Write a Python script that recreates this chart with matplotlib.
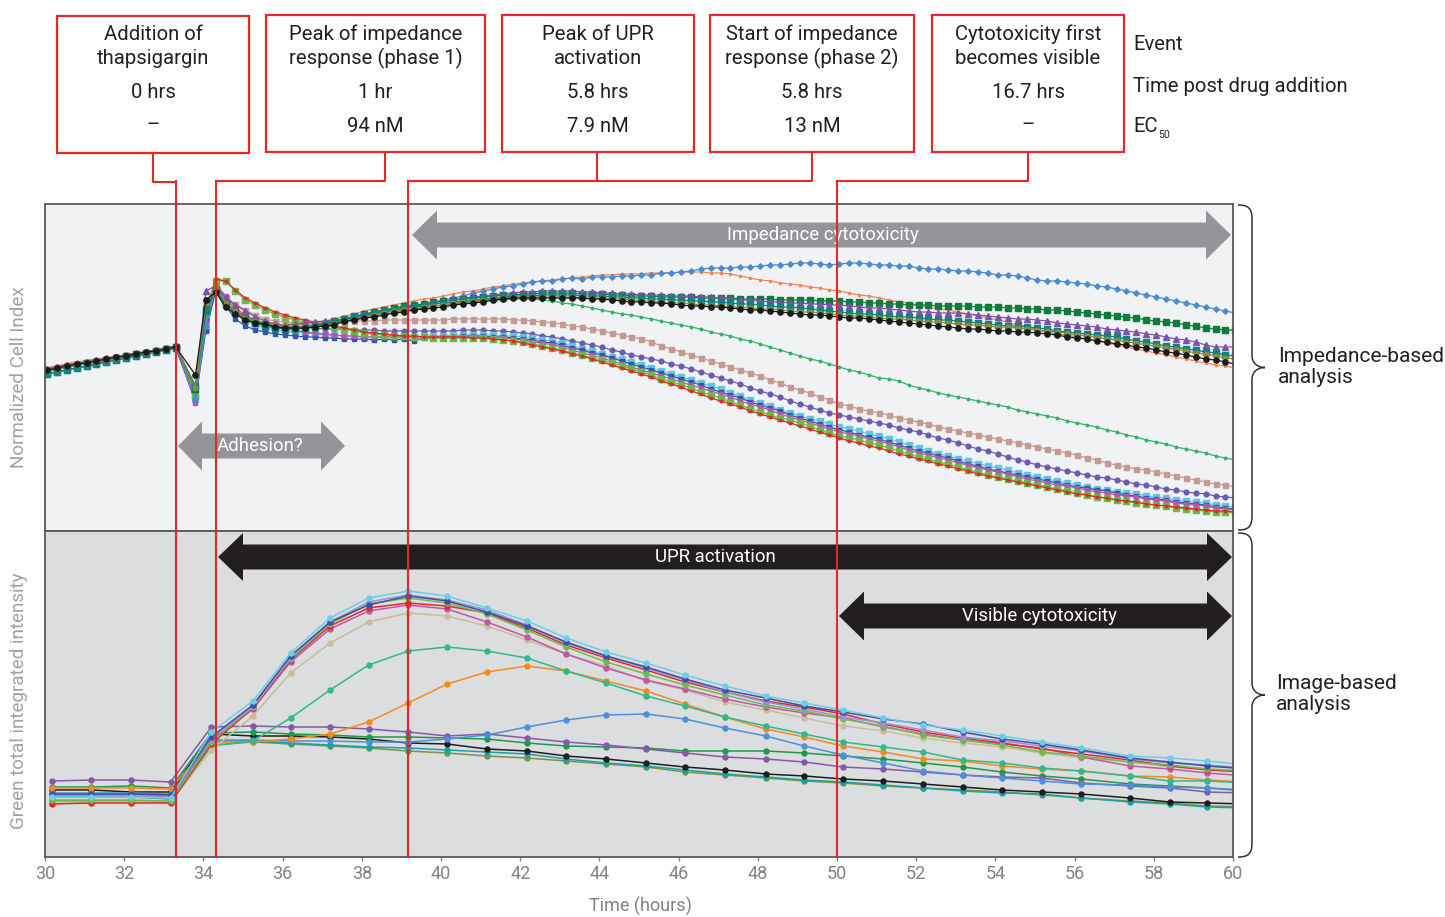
import matplotlib.pyplot as plt
import numpy as np
from matplotlib.patches import Polygon, Rectangle, PathPatch
from matplotlib.path import Path

plt.rcParams['font.family'] = ['Roboto', 'DejaVu Sans']

# ---------------- impedance (top panel), 15 min sampling ----------------
t_imp = ([round(30.05 + 0.25 * k, 2) for k in range(14)] + [33.80, 34.06]
         + [round(34.31 + 0.25 * k, 2) for k in range(104)])

imp_black = [1.61, 1.63, 1.65, 1.67, 1.68, 1.70, 1.72, 1.74, 1.75, 1.77, 1.79, 1.80, 1.82, 1.84,
    1.56, 2.31, 2.39, 2.24, 2.17,
    2.11, 2.08, 2.07, 2.04, 2.03, 2.03, 2.03, 2.04, 2.05, 2.06, 2.10, 2.11, 2.13, 2.14, 2.16, 2.18, 2.19, 2.21, 2.22, 2.23,
    2.24, 2.26, 2.27, 2.28, 2.29, 2.31, 2.32, 2.33, 2.33, 2.33, 2.33, 2.33, 2.33, 2.33, 2.33, 2.32, 2.32, 2.31, 2.30, 2.29,
    2.29, 2.28, 2.28, 2.27, 2.26, 2.25, 2.25, 2.24, 2.24, 2.23, 2.22, 2.21, 2.21, 2.20, 2.19, 2.18, 2.17, 2.16, 2.16, 2.15,
    2.14, 2.13, 2.13, 2.12, 2.11, 2.10, 2.09, 2.08, 2.07, 2.06, 2.05, 2.04, 2.03, 2.02, 2.02, 2.01, 2.00, 2.00, 1.99, 1.99,
    1.98, 1.97, 1.96, 1.94, 1.93, 1.92, 1.90, 1.89, 1.87, 1.86, 1.84, 1.83, 1.81, 1.79, 1.78, 1.76, 1.74, 1.72, 1.71, 1.69,
    1.67]
imp_olive = [1.60, 1.62, 1.64, 1.66, 1.68, 1.69, 1.71, 1.73, 1.75, 1.77, 1.78, 1.80, 1.82, 1.84,
    1.43, 2.28, 2.44, 2.28, 2.20,
    2.13, 2.10, 2.08, 2.06, 2.05, 2.04, 2.04, 2.04, 2.05, 2.07, 2.10, 2.12, 2.14, 2.16, 2.18, 2.20, 2.21, 2.22, 2.24, 2.25,
    2.26, 2.28, 2.29, 2.30, 2.31, 2.32, 2.33, 2.34, 2.34, 2.34, 2.34, 2.34, 2.34, 2.34, 2.33, 2.33, 2.33, 2.32, 2.32, 2.31,
    2.30, 2.30, 2.29, 2.28, 2.28, 2.27, 2.26, 2.26, 2.25, 2.24, 2.24, 2.23, 2.22, 2.22, 2.21, 2.20, 2.19, 2.19, 2.18, 2.17,
    2.16, 2.15, 2.15, 2.14, 2.13, 2.12, 2.12, 2.11, 2.10, 2.09, 2.09, 2.08, 2.07, 2.06, 2.06, 2.05, 2.04, 2.04, 2.03, 2.02,
    2.01, 2.00, 1.99, 1.98, 1.96, 1.95, 1.94, 1.92, 1.91, 1.89, 1.88, 1.86, 1.85, 1.83, 1.82, 1.80, 1.78, 1.77, 1.75, 1.73,
    1.72]
imp_teal = [1.57, 1.59, 1.61, 1.63, 1.65, 1.67, 1.69, 1.71, 1.73, 1.75, 1.77, 1.79, 1.81, 1.83,
    1.45, 2.20, 2.41, 2.27, 2.18,
    2.12, 2.08, 2.05, 2.03, 2.02, 2.02, 2.03, 2.04, 2.06, 2.08, 2.11, 2.14, 2.16, 2.18, 2.20, 2.21, 2.23, 2.24, 2.25, 2.27,
    2.28, 2.29, 2.30, 2.31, 2.32, 2.33, 2.34, 2.35, 2.35, 2.35, 2.36, 2.36, 2.36, 2.36, 2.35, 2.35, 2.35, 2.34, 2.34, 2.33,
    2.33, 2.32, 2.32, 2.31, 2.31, 2.30, 2.30, 2.29, 2.29, 2.28, 2.27, 2.27, 2.26, 2.25, 2.24, 2.24, 2.23, 2.22, 2.21, 2.20,
    2.19, 2.18, 2.17, 2.17, 2.16, 2.15, 2.14, 2.14, 2.13, 2.12, 2.11, 2.11, 2.10, 2.09, 2.08, 2.07, 2.06, 2.05, 2.05, 2.04,
    2.03, 2.02, 2.00, 1.99, 1.98, 1.97, 1.96, 1.95, 1.94, 1.92, 1.90, 1.89, 1.87, 1.85, 1.84, 1.82, 1.81, 1.79, 1.78, 1.76,
    1.75]
imp_dkgreen = [1.60, 1.62, 1.64, 1.66, 1.68, 1.69, 1.71, 1.73, 1.75, 1.77, 1.78, 1.80, 1.82, 1.84,
    1.42, 2.22, 2.42, 2.28, 2.20,
    2.14, 2.10, 2.07, 2.05, 2.03, 2.03, 2.04, 2.05, 2.07, 2.10, 2.12, 2.15, 2.17, 2.19, 2.21, 2.23, 2.25, 2.26, 2.27, 2.29,
    2.30, 2.31, 2.32, 2.33, 2.34, 2.35, 2.36, 2.36, 2.37, 2.37, 2.38, 2.38, 2.38, 2.38, 2.37, 2.37, 2.37, 2.36, 2.36, 2.35,
    2.35, 2.35, 2.34, 2.34, 2.34, 2.34, 2.33, 2.33, 2.33, 2.33, 2.32, 2.32, 2.32, 2.32, 2.31, 2.31, 2.31, 2.31, 2.30, 2.30,
    2.30, 2.29, 2.29, 2.28, 2.28, 2.27, 2.27, 2.26, 2.26, 2.26, 2.25, 2.25, 2.25, 2.25, 2.24, 2.24, 2.24, 2.23, 2.23, 2.22,
    2.22, 2.21, 2.21, 2.20, 2.19, 2.18, 2.17, 2.16, 2.15, 2.14, 2.13, 2.11, 2.10, 2.09, 2.08, 2.06, 2.05, 2.03, 2.02, 2.01,
    2.01]
imp_purple = [1.62, 1.64, 1.66, 1.67, 1.69, 1.71, 1.73, 1.74, 1.76, 1.78, 1.79, 1.81, 1.83, 1.85,
    1.45, 2.40, 2.45, 2.33, 2.26,
    2.20, 2.14, 2.10, 2.07, 2.06, 2.07, 2.08, 2.09, 2.10, 2.11, 2.12, 2.13, 2.15, 2.17, 2.19, 2.20, 2.22, 2.24, 2.26, 2.28,
    2.30, 2.31, 2.33, 2.34, 2.35, 2.36, 2.37, 2.38, 2.39, 2.39, 2.40, 2.40, 2.40, 2.40, 2.39, 2.39, 2.38, 2.38, 2.37, 2.37,
    2.36, 2.36, 2.36, 2.35, 2.35, 2.35, 2.34, 2.34, 2.33, 2.32, 2.31, 2.31, 2.30, 2.29, 2.29, 2.28, 2.28, 2.27, 2.27, 2.26,
    2.26, 2.25, 2.24, 2.23, 2.23, 2.22, 2.21, 2.20, 2.19, 2.19, 2.18, 2.18, 2.18, 2.17, 2.16, 2.15, 2.14, 2.13, 2.12, 2.12,
    2.11, 2.10, 2.08, 2.07, 2.06, 2.05, 2.04, 2.02, 2.01, 2.00, 1.99, 1.97, 1.96, 1.94, 1.92, 1.91, 1.89, 1.86, 1.84, 1.84,
    1.84]
imp_orange = [1.63, 1.65, 1.67, 1.69, 1.70, 1.72, 1.73, 1.75, 1.76, 1.78, 1.79, 1.81, 1.83, 1.85,
    1.40, 2.25, 2.48, 2.31, 2.22,
    2.15, 2.11, 2.08, 2.07, 2.06, 2.06, 2.07, 2.08, 2.10, 2.12, 2.15, 2.17, 2.20, 2.22, 2.24, 2.26, 2.28, 2.30, 2.32, 2.33,
    2.35, 2.37, 2.39, 2.40, 2.42, 2.44, 2.45, 2.47, 2.48, 2.49, 2.50, 2.51, 2.52, 2.53, 2.54, 2.55, 2.56, 2.56, 2.57, 2.57,
    2.57, 2.58, 2.58, 2.58, 2.59, 2.59, 2.59, 2.58, 2.58, 2.57, 2.55, 2.53, 2.51, 2.50, 2.48, 2.47, 2.46, 2.44, 2.43, 2.41,
    2.40, 2.38, 2.36, 2.35, 2.33, 2.31, 2.29, 2.28, 2.26, 2.24, 2.22, 2.21, 2.19, 2.17, 2.15, 2.13, 2.11, 2.09, 2.06, 2.04,
    2.01, 1.99, 1.97, 1.96, 1.94, 1.92, 1.90, 1.88, 1.86, 1.84, 1.82, 1.80, 1.78, 1.76, 1.74, 1.72, 1.70, 1.68, 1.66, 1.65,
    1.63]
imp_blue = [1.61, 1.63, 1.65, 1.67, 1.68, 1.70, 1.72, 1.74, 1.75, 1.77, 1.79, 1.80, 1.82, 1.84,
    1.32, 2.05, 2.44, 2.29, 2.20,
    2.13, 2.09, 2.06, 2.04, 2.03, 2.04, 2.05, 2.06, 2.08, 2.10, 2.12, 2.14, 2.16, 2.18, 2.20, 2.22, 2.24, 2.25, 2.27, 2.29,
    2.31, 2.33, 2.35, 2.38, 2.40, 2.42, 2.44, 2.45, 2.47, 2.49, 2.50, 2.50, 2.52, 2.53, 2.52, 2.54, 2.54, 2.54, 2.55, 2.55,
    2.56, 2.56, 2.58, 2.58, 2.59, 2.60, 2.62, 2.63, 2.63, 2.63, 2.64, 2.64, 2.65, 2.66, 2.66, 2.67, 2.68, 2.68, 2.67, 2.66,
    2.67, 2.68, 2.68, 2.67, 2.66, 2.66, 2.65, 2.65, 2.63, 2.62, 2.62, 2.61, 2.60, 2.60, 2.59, 2.58, 2.56, 2.56, 2.55, 2.53,
    2.51, 2.50, 2.50, 2.49, 2.48, 2.47, 2.45, 2.44, 2.42, 2.40, 2.38, 2.36, 2.34, 2.32, 2.30, 2.28, 2.26, 2.24, 2.22, 2.20,
    2.18]
imp_green = [1.60, 1.62, 1.64, 1.66, 1.68, 1.69, 1.71, 1.73, 1.75, 1.77, 1.78, 1.80, 1.82, 1.84,
    1.38, 2.15, 2.42, 2.27, 2.19,
    2.12, 2.08, 2.06, 2.04, 2.03, 2.03, 2.04, 2.05, 2.06, 2.08, 2.10, 2.12, 2.14, 2.15, 2.17, 2.18, 2.20, 2.22, 2.23, 2.25,
    2.26, 2.27, 2.28, 2.29, 2.30, 2.31, 2.31, 2.32, 2.32, 2.32, 2.31, 2.30, 2.28, 2.27, 2.25, 2.23, 2.21, 2.19, 2.17, 2.16,
    2.14, 2.12, 2.10, 2.08, 2.06, 2.04, 2.02, 1.99, 1.97, 1.95, 1.92, 1.90, 1.87, 1.84, 1.81, 1.78, 1.75, 1.72, 1.70, 1.67,
    1.64, 1.61, 1.59, 1.56, 1.53, 1.52, 1.50, 1.46, 1.43, 1.41, 1.38, 1.36, 1.34, 1.32, 1.30, 1.28, 1.26, 1.24, 1.21, 1.19,
    1.17, 1.15, 1.13, 1.10, 1.08, 1.06, 1.04, 1.01, 0.99, 0.96, 0.94, 0.91, 0.89, 0.87, 0.84, 0.82, 0.80, 0.78, 0.75, 0.73,
    0.71]
imp_rosy = [1.61, 1.63, 1.65, 1.67, 1.68, 1.70, 1.72, 1.74, 1.75, 1.77, 1.79, 1.80, 1.82, 1.84,
    1.35, 2.10, 2.44, 2.34, 2.27,
    2.21, 2.16, 2.12, 2.10, 2.09, 2.08, 2.08, 2.08, 2.08, 2.09, 2.09, 2.10, 2.10, 2.10, 2.11, 2.11, 2.11, 2.11, 2.11, 2.11,
    2.11, 2.12, 2.12, 2.12, 2.12, 2.12, 2.12, 2.11, 2.11, 2.10, 2.09, 2.08, 2.07, 2.05, 2.04, 2.02, 2.00, 1.98, 1.96, 1.94,
    1.92, 1.89, 1.85, 1.82, 1.79, 1.76, 1.73, 1.70, 1.67, 1.64, 1.61, 1.58, 1.55, 1.51, 1.48, 1.44, 1.41, 1.38, 1.34, 1.31,
    1.27, 1.25, 1.22, 1.20, 1.18, 1.16, 1.13, 1.11, 1.09, 1.07, 1.04, 1.02, 1.00, 0.98, 0.96, 0.94, 0.92, 0.90, 0.88, 0.86,
    0.84, 0.82, 0.80, 0.78, 0.76, 0.73, 0.71, 0.68, 0.66, 0.64, 0.62, 0.61, 0.59, 0.57, 0.55, 0.53, 0.51, 0.49, 0.47, 0.46,
    0.44]
imp_slate = [1.60, 1.62, 1.64, 1.66, 1.68, 1.69, 1.71, 1.73, 1.75, 1.77, 1.78, 1.80, 1.82, 1.84,
    1.30, 2.12, 2.43, 2.32, 2.22,
    2.16, 2.11, 2.08, 2.06, 2.05, 2.04, 2.03, 2.03, 2.02, 2.02, 2.02, 2.01, 2.01, 2.01, 2.00, 2.00, 2.00, 2.00, 2.00, 2.00,
    2.00, 2.00, 2.01, 2.01, 2.01, 2.00, 2.00, 1.99, 1.98, 1.97, 1.95, 1.94, 1.92, 1.90, 1.88, 1.86, 1.84, 1.81, 1.79, 1.76,
    1.74, 1.72, 1.70, 1.67, 1.65, 1.62, 1.59, 1.56, 1.53, 1.50, 1.47, 1.43, 1.40, 1.37, 1.34, 1.30, 1.27, 1.24, 1.21, 1.18,
    1.16, 1.14, 1.12, 1.10, 1.08, 1.06, 1.03, 1.01, 0.99, 0.96, 0.93, 0.91, 0.88, 0.85, 0.82, 0.80, 0.77, 0.74, 0.71, 0.69,
    0.66, 0.64, 0.62, 0.60, 0.58, 0.56, 0.54, 0.53, 0.51, 0.49, 0.47, 0.46, 0.44, 0.42, 0.41, 0.39, 0.38, 0.37, 0.35, 0.34,
    0.33]
imp_cyan = [1.57, 1.59, 1.61, 1.63, 1.65, 1.67, 1.69, 1.71, 1.73, 1.75, 1.77, 1.79, 1.81, 1.83,
    1.33, 2.02, 2.42, 2.30, 2.18,
    2.10, 2.06, 2.03, 2.01, 2.00, 1.99, 1.98, 1.97, 1.96, 1.96, 1.95, 1.95, 1.94, 1.94, 1.94, 1.94, 1.94, 1.94, 1.95, 1.95,
    1.95, 1.96, 1.96, 1.96, 1.96, 1.96, 1.95, 1.95, 1.94, 1.93, 1.91, 1.90, 1.88, 1.85, 1.82, 1.80, 1.77, 1.74, 1.72, 1.69,
    1.66, 1.63, 1.60, 1.57, 1.54, 1.51, 1.48, 1.45, 1.42, 1.38, 1.35, 1.31, 1.28, 1.25, 1.21, 1.18, 1.15, 1.12, 1.10, 1.07,
    1.04, 1.02, 1.00, 0.97, 0.95, 0.92, 0.89, 0.86, 0.83, 0.80, 0.77, 0.75, 0.72, 0.70, 0.67, 0.65, 0.63, 0.61, 0.58, 0.56,
    0.54, 0.52, 0.50, 0.48, 0.46, 0.44, 0.42, 0.41, 0.39, 0.38, 0.37, 0.35, 0.34, 0.33, 0.31, 0.30, 0.29, 0.28, 0.26, 0.25,
    0.24]
imp_dkblue = [1.57, 1.59, 1.61, 1.63, 1.65, 1.67, 1.69, 1.71, 1.73, 1.75, 1.77, 1.79, 1.81, 1.83,
    1.31, 2.00, 2.40, 2.25, 2.12,
    2.05, 2.01, 1.99, 1.97, 1.96, 1.95, 1.94, 1.94, 1.93, 1.93, 1.92, 1.92, 1.92, 1.91, 1.92, 1.91, 1.92, 1.90, 1.93, 1.93,
    1.94, 1.94, 1.95, 1.95, 1.95, 1.94, 1.94, 1.93, 1.92, 1.91, 1.89, 1.88, 1.86, 1.83, 1.81, 1.78, 1.76, 1.73, 1.70, 1.67,
    1.64, 1.61, 1.58, 1.55, 1.52, 1.49, 1.46, 1.42, 1.39, 1.36, 1.33, 1.29, 1.26, 1.23, 1.20, 1.16, 1.13, 1.10, 1.07, 1.04,
    1.01, 0.99, 0.96, 0.94, 0.92, 0.89, 0.86, 0.83, 0.80, 0.78, 0.75, 0.73, 0.70, 0.67, 0.65, 0.62, 0.60, 0.58, 0.56, 0.54,
    0.52, 0.50, 0.48, 0.46, 0.44, 0.43, 0.41, 0.40, 0.38, 0.36, 0.35, 0.33, 0.32, 0.31, 0.29, 0.28, 0.27, 0.26, 0.24, 0.23,
    0.22]
imp_magenta = [1.62, 1.64, 1.66, 1.67, 1.69, 1.71, 1.73, 1.74, 1.76, 1.78, 1.79, 1.81, 1.83, 1.85,
    1.28, 2.08, 2.47, 2.35, 2.24,
    2.15, 2.10, 2.07, 2.05, 2.03, 2.01, 1.99, 1.98, 1.97, 1.96, 1.95, 1.95, 1.94, 1.94, 1.94, 1.94, 1.94, 1.94, 1.94, 1.94,
    1.94, 1.94, 1.94, 1.94, 1.94, 1.93, 1.93, 1.92, 1.91, 1.89, 1.88, 1.86, 1.84, 1.81, 1.78, 1.76, 1.73, 1.70, 1.67, 1.64,
    1.61, 1.58, 1.55, 1.52, 1.49, 1.46, 1.43, 1.40, 1.37, 1.34, 1.30, 1.27, 1.24, 1.21, 1.17, 1.14, 1.11, 1.08, 1.05, 1.02,
    0.99, 0.97, 0.95, 0.92, 0.90, 0.87, 0.84, 0.81, 0.78, 0.76, 0.73, 0.71, 0.68, 0.66, 0.63, 0.61, 0.59, 0.57, 0.54, 0.52,
    0.50, 0.48, 0.46, 0.45, 0.43, 0.41, 0.39, 0.38, 0.36, 0.35, 0.34, 0.32, 0.31, 0.30, 0.28, 0.27, 0.26, 0.25, 0.23, 0.22,
    0.21]
imp_ltgreen = [1.60, 1.62, 1.64, 1.66, 1.68, 1.69, 1.71, 1.73, 1.75, 1.77, 1.78, 1.80, 1.82, 1.84,
    1.36, 2.18, 2.50, 2.50, 2.40,
    2.31, 2.26, 2.21, 2.17, 2.14, 2.11, 2.09, 2.07, 2.06, 2.04, 2.02, 2.00, 1.98, 1.97, 1.96, 1.95, 1.95, 1.94, 1.94, 1.93,
    1.93, 1.93, 1.93, 1.93, 1.93, 1.92, 1.91, 1.90, 1.89, 1.87, 1.85, 1.83, 1.81, 1.78, 1.76, 1.73, 1.71, 1.68, 1.65, 1.62,
    1.59, 1.56, 1.52, 1.49, 1.46, 1.43, 1.39, 1.36, 1.33, 1.29, 1.26, 1.22, 1.19, 1.16, 1.13, 1.11, 1.08, 1.05, 1.01, 0.98,
    0.95, 0.93, 0.91, 0.88, 0.86, 0.83, 0.80, 0.77, 0.74, 0.72, 0.69, 0.67, 0.64, 0.61, 0.59, 0.56, 0.54, 0.52, 0.50, 0.48,
    0.46, 0.44, 0.42, 0.40, 0.38, 0.36, 0.34, 0.33, 0.31, 0.30, 0.28, 0.27, 0.26, 0.25, 0.23, 0.22, 0.21, 0.20, 0.19, 0.19,
    0.18]
imp_red = [1.63, 1.65, 1.67, 1.69, 1.70, 1.72, 1.73, 1.75, 1.76, 1.78, 1.79, 1.81, 1.83, 1.85,
    1.38, 2.20, 2.52, 2.50, 2.41,
    2.33, 2.28, 2.23, 2.19, 2.16, 2.13, 2.11, 2.09, 2.07, 2.05, 2.03, 2.01, 1.99, 1.98, 1.97, 1.96, 1.95, 1.95, 1.94, 1.94,
    1.94, 1.94, 1.94, 1.93, 1.93, 1.92, 1.91, 1.90, 1.88, 1.86, 1.84, 1.82, 1.80, 1.77, 1.75, 1.72, 1.69, 1.66, 1.63, 1.60,
    1.57, 1.54, 1.50, 1.47, 1.44, 1.40, 1.37, 1.33, 1.30, 1.27, 1.24, 1.20, 1.17, 1.14, 1.11, 1.08, 1.05, 1.02, 0.99, 0.96,
    0.93, 0.90, 0.88, 0.85, 0.83, 0.80, 0.77, 0.75, 0.72, 0.70, 0.67, 0.65, 0.62, 0.60, 0.57, 0.55, 0.53, 0.51, 0.49, 0.47,
    0.45, 0.43, 0.41, 0.39, 0.37, 0.36, 0.34, 0.33, 0.31, 0.30, 0.29, 0.27, 0.26, 0.25, 0.24, 0.23, 0.22, 0.21, 0.20, 0.20,
    0.19]

# ---------------- image-based (bottom panel), hourly ----------------
t_img = [30.17, 31.17, 32.17, 33.17, 34.20, 35.25, 36.20, 37.20, 38.17, 39.17,
         40.15, 41.16, 42.17, 43.16, 44.17, 45.18, 46.16, 47.17, 48.20, 49.17,
         50.15, 51.17, 52.17, 53.17, 54.17, 55.17, 56.17, 57.40, 58.40, 59.35, 60.35]

img_cyan = [0.60, 0.60, 0.60, 0.59, 1.25, 1.56, 2.04, 2.39, 2.59, 2.66,
            2.61, 2.49, 2.36, 2.19, 2.05, 1.94, 1.82, 1.71, 1.61, 1.54,
            1.47, 1.39, 1.32, 1.27, 1.21, 1.15, 1.09, 1.01, 0.99, 0.96, 0.92]
img_dkblue = [0.63, 0.63, 0.63, 0.62, 1.20, 1.52, 2.01, 2.35, 2.52, 2.61,
              2.56, 2.45, 2.31, 2.15, 2.01, 1.90, 1.78, 1.67, 1.59, 1.51,
              1.45, 1.38, 1.33, 1.25, 1.18, 1.13, 1.07, 0.99, 0.95, 0.91, 0.88]
img_lavender = [0.62, 0.62, 0.62, 0.61, 1.18, 1.50, 1.99, 2.35, 2.55, 2.62,
                2.57, 2.47, 2.32, 2.14, 2.01, 1.89, 1.77, 1.65, 1.55, 1.48,
                1.40, 1.34, 1.27, 1.20, 1.16, 1.11, 1.06, 0.98, 0.94, 0.92, 0.89]
img_ltgreen = [0.57, 0.57, 0.57, 0.56, 1.15, 1.50, 1.98, 2.33, 2.53, 2.59,
               2.54, 2.43, 2.27, 2.10, 1.95, 1.83, 1.72, 1.62, 1.52, 1.46,
               1.38, 1.31, 1.22, 1.17, 1.12, 1.05, 1.01, 0.95, 0.92, 0.88, 0.86]
img_red = [0.53, 0.54, 0.54, 0.54, 1.13, 1.49, 1.97, 2.31, 2.49, 2.54,
           2.51, 2.44, 2.29, 2.12, 1.99, 1.87, 1.75, 1.65, 1.56, 1.50,
           1.43, 1.33, 1.25, 1.19, 1.14, 1.08, 1.03, 0.97, 0.91, 0.87, 0.85]
img_magenta = [0.62, 0.62, 0.61, 0.61, 1.16, 1.48, 1.95, 2.28, 2.46, 2.52,
               2.48, 2.35, 2.20, 2.03, 1.89, 1.77, 1.68, 1.58, 1.50, 1.44,
               1.39, 1.30, 1.23, 1.17, 1.13, 1.09, 1.00, 0.91, 0.88, 0.84, 0.81]
img_tan = [0.55, 0.55, 0.55, 0.55, 1.07, 1.41, 1.84, 2.14, 2.35, 2.44,
           2.41, 2.31, 2.17, 2.03, 1.91, 1.76, 1.67, 1.55, 1.47, 1.39,
           1.31, 1.26, 1.19, 1.14, 1.10, 1.04, 0.99, 0.95, 0.90, 0.88, 0.84]
img_tealgreen = [0.56, 0.56, 0.56, 0.55, 1.11, 1.16, 1.39, 1.67, 1.92, 2.06,
                 2.10, 2.06, 1.99, 1.86, 1.74, 1.61, 1.51, 1.40, 1.31, 1.23,
                 1.15, 1.10, 1.05, 0.97, 0.94, 0.89, 0.86, 0.81, 0.76, 0.76, 0.74]
img_orange = [0.69, 0.69, 0.69, 0.68, 1.15, 1.15, 1.18, 1.23, 1.35, 1.54,
              1.73, 1.85, 1.91, 1.86, 1.76, 1.66, 1.53, 1.40, 1.28, 1.20,
              1.11, 1.05, 0.98, 0.96, 0.91, 0.88, 0.86, 0.81, 0.80, 0.77, 0.75]
img_blue = [0.64, 0.64, 0.64, 0.63, 1.17, 1.17, 1.16, 1.16, 1.15, 1.15,
            1.18, 1.22, 1.30, 1.37, 1.42, 1.43, 1.38, 1.29, 1.21, 1.11,
            1.02, 0.94, 0.86, 0.82, 0.79, 0.76, 0.73, 0.72, 0.70, 0.69, 0.67]
img_purple = [0.76, 0.77, 0.77, 0.75, 1.30, 1.31, 1.30, 1.30, 1.28, 1.25,
              1.21, 1.23, 1.19, 1.15, 1.12, 1.08, 1.04, 1.00, 0.98, 0.95,
              0.90, 0.88, 0.85, 0.82, 0.80, 0.79, 0.74, 0.71, 0.69, 0.65, 0.64]
img_green = [0.70, 0.70, 0.71, 0.69, 1.24, 1.25, 1.23, 1.22, 1.20, 1.20,
             1.19, 1.18, 1.14, 1.11, 1.10, 1.09, 1.06, 1.06, 1.06, 1.04,
             1.01, 0.98, 0.94, 0.90, 0.85, 0.81, 0.78, 0.73, 0.71, 0.69, 0.66]
img_black = [0.67, 0.67, 0.65, 0.65, 1.23, 1.21, 1.21, 1.20, 1.18, 1.14,
             1.13, 1.08, 1.06, 1.01, 0.98, 0.94, 0.90, 0.87, 0.83, 0.81,
             0.78, 0.76, 0.73, 0.70, 0.67, 0.65, 0.63, 0.59, 0.55, 0.54, 0.53]
img_teal = [0.60, 0.60, 0.60, 0.58, 1.16, 1.16, 1.14, 1.12, 1.10, 1.09,
            1.07, 1.05, 1.03, 0.98, 0.94, 0.91, 0.87, 0.83, 0.80, 0.77,
            0.75, 0.72, 0.69, 0.66, 0.64, 0.63, 0.59, 0.55, 0.53, 0.50, 0.49]
img_olive = [0.56, 0.56, 0.56, 0.55, 1.12, 1.15, 1.13, 1.11, 1.09, 1.06,
             1.04, 1.01, 0.99, 0.96, 0.93, 0.90, 0.85, 0.82, 0.79, 0.76,
             0.74, 0.71, 0.69, 0.67, 0.65, 0.62, 0.59, 0.56, 0.54, 0.51, 0.50]

# event times (h) and annotation boxes
event_times = [33.3, 34.32, 39.17, 50.0]
box_titles = ["Addition of\nthapsigargin", "Peak of impedance\nresponse (phase 1)",
              "Peak of UPR\nactivation", "Start of impedance\nresponse (phase 2)",
              "Cytotoxicity first\nbecomes visible"]
box_times = ["0 hrs", "1 hr", "5.8 hrs", "5.8 hrs", "16.7 hrs"]
box_ec50 = ["\u2013", "94 nM", "7.9 nM", "13 nM", "\u2013"]
box_event = [0, 1, 2, 2, 3]

RED = '#e8262a'
W, H = 1445, 917
fig = plt.figure(figsize=(W / 100, H / 100), dpi=100)
ax1 = fig.add_axes([45 / W, 1 - 531 / H, 1188 / W, 327 / H])
ax2 = fig.add_axes([45 / W, 1 - 857 / H, 1188 / W, 326 / H])

top = [(imp_rosy, '#c49a93', 's', 3.6), (imp_slate, '#6b5bb0', 'o', 3.4),
       (imp_cyan, '#62c6de', 's', 3.8), (imp_dkblue, '#3b53a6', 's', 3.0),
       (imp_magenta, '#b455b2', 's', 3.0), (imp_ltgreen, '#68b946', 's', 3.8),
       (imp_red, '#e5262b', 'o', 1.8), (imp_green, '#33b26c', 'o', 1.8),
       (imp_orange, '#f5855a', 's', 2.0), (imp_blue, '#4b8bd0', 'D', 2.8),
       (imp_dkgreen, '#0f7b3d', 's', 3.8), (imp_purple, '#7d52a8', '^', 3.8),
       (imp_teal, '#108282', 's', 3.8), (imp_olive, '#8f8c35', 's', 3.5),
       (imp_black, '#1b1b1b', 'o', 3.8)]
for vals, c, m, ms in top:
    ax1.plot(t_imp, vals, color=c, marker=m, ms=ms, lw=0.9, mec=c)

bottom = [(img_olive, '#7a9440'), (img_teal, '#1aa0a8'), (img_black, '#1e1e1e'),
          (img_green, '#1b9b4a'), (img_purple, '#8559a9'), (img_blue, '#4e8fd8'),
          (img_orange, '#f58a20'), (img_tealgreen, '#2fba8c'), (img_tan, '#c9bd99'),
          (img_magenta, '#c455a8'), (img_red, '#e8262a'), (img_ltgreen, '#6cbb4c'),
          (img_lavender, '#9b92d2'), (img_dkblue, '#3b50a6'), (img_cyan, '#6fcde3')]
for vals, c in bottom:
    ax2.plot(t_img, vals, color=c, marker='o', ms=3.6, lw=1.1, mec=c)

ax1.set_facecolor('#f1f2f3')
ax2.set_facecolor('#dcdddf')
ax1.set_ylim(0, 3.27)
ax2.set_ylim(0, 3.26)
for ax in (ax1, ax2):
    ax.set_xlim(30, 60)
    ax.set_yticks([])
    for s in ax.spines.values():
        s.set_color('#58595b')
        s.set_linewidth(1.3)
ax1.set_xticks([])
ax2.set_xticks(range(30, 61, 2))
ax2.tick_params(axis='x', length=3, width=1, color='#808285',
                labelcolor='#808285', labelsize=13, pad=3)

fig.text(19 / W, 1 - 377 / H, "Normalized Cell Index", rotation=90, ha='center',
         va='center', color='#a0a1a3', fontsize=13.5)
fig.text(19 / W, 1 - 701 / H, "Green total integrated intensity", rotation=90,
         ha='center', va='center', color='#a0a1a3', fontsize=13.5)
fig.text(640 / W, 1 - 906 / H, "Time (hours)", ha='center', va='center',
         color='#808285', fontsize=13)

# overlay in pixel coordinates for the annotations
ov = fig.add_axes([0, 0, 1, 1], zorder=5)
ov.set_xlim(0, W)
ov.set_ylim(H, 0)
ov.axis('off')


def block_arrow(x0, x1, yc, color, label, xt, shaft=25, head=49, hl=25):
    pts = [(x0, yc), (x0 + hl, yc - head / 2), (x0 + hl, yc - shaft / 2),
           (x1 - hl, yc - shaft / 2), (x1 - hl, yc - head / 2), (x1, yc),
           (x1 - hl, yc + head / 2), (x1 - hl, yc + shaft / 2),
           (x0 + hl, yc + shaft / 2), (x0 + hl, yc + head / 2)]
    ov.add_patch(Polygon(pts, closed=True, fc=color, ec='none', zorder=2))
    ov.text(xt, yc, label, color='white', fontsize=13.4,
            ha='center', va='center', zorder=3)


block_arrow(412, 1231, 235, '#939598', "Impedance cytotoxicity", 823)
block_arrow(178, 345, 446, '#939598', "Adhesion?", 260, hl=24)
block_arrow(218, 1232, 557, '#231f20', "UPR activation", 715, head=48)
block_arrow(839, 1232, 616, '#231f20', "Visible cytotoxicity", 1040)

# event lines
ev_x = [ax2.transData.transform((t, 0))[0] for t in event_times]
for x in ev_x:
    ov.plot([x, x], [181, 857], color=RED, lw=1.5, zorder=4)

boxes = [(57, 249, 16, 153, 153), (266, 485, 15, 152, 385), (502, 694, 15, 152, 597),
         (710, 914, 15, 152, 812), (932, 1124, 15, 152, 1028)]
for (x0, x1, y0, y1, cx), title, tm, ec, ev in zip(boxes, box_titles, box_times,
                                                   box_ec50, box_event):
    ov.add_patch(Rectangle((x0, y0), x1 - x0, y1 - y0, fill=False, ec=RED, lw=1.6))
    xc = (x0 + x1) / 2
    l1, l2 = title.split('\n')
    for txt, yy in [(l1, 34), (l2, 58), (tm, 93), (ec, 126)]:
        ov.text(xc, yy, txt, ha='center', va='center', fontsize=14.6, color='#231f20')
    yconn = 182 if ev == 0 else 181
    ov.plot([cx, cx, ev_x[ev]], [y1, yconn, yconn], color=RED, lw=1.5, zorder=4)

ov.text(1133, 45, "Event", ha='left', va='center', fontsize=14.6, color='#231f20')
ov.text(1133, 87, "Time post drug addition", ha='left', va='center', fontsize=14.6,
        color='#231f20')
ov.text(1133, 127, "EC", ha='left', va='center', fontsize=14.6, color='#231f20')
ov.text(1158, 135, "50", ha='left', va='center', fontsize=7.5, color='#231f20')


def brace(x0, y0, y1):
    ym = (y0 + y1) / 2
    xv = x0 + 14
    xt = x0 + 27
    verts = [(x0, y0), (x0 + 10, y0), (xv, y0 + 3), (xv, y0 + 14),
             (xv, ym - 12),
             (xv, ym - 4), (xv + 6, ym), (xt, ym),
             (xv + 6, ym), (xv, ym + 4), (xv, ym + 12),
             (xv, y1 - 14),
             (xv, y1 - 3), (x0 + 10, y1), (x0, y1)]
    codes = [Path.MOVETO, Path.CURVE4, Path.CURVE4, Path.CURVE4, Path.LINETO,
             Path.CURVE4, Path.CURVE4, Path.CURVE4, Path.CURVE4, Path.CURVE4,
             Path.CURVE4, Path.LINETO, Path.CURVE4, Path.CURVE4, Path.CURVE4]
    ov.add_patch(PathPatch(Path(verts, codes), fill=False, ec='#333333', lw=1.1))


brace(1238, 205, 530)
brace(1238, 533, 857)
ov.text(1278, 367, "Impedance-based\nanalysis", ha='left', va='center',
        fontsize=15, color='#231f20', linespacing=1.15)
ov.text(1276, 694, "Image-based\nanalysis", ha='left', va='center',
        fontsize=15, color='#231f20', linespacing=1.15)

fig.savefig('out.png', dpi=100)
